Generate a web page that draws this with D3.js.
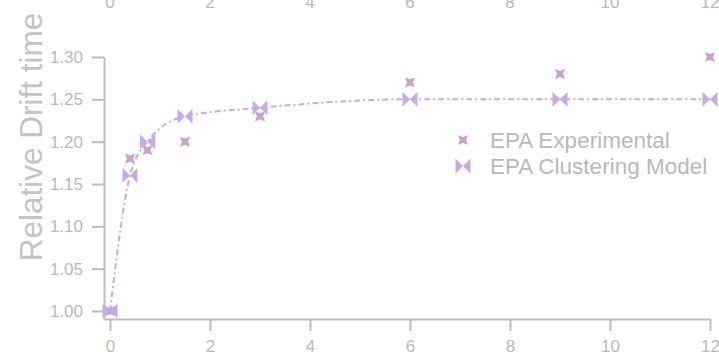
<!DOCTYPE html>
<html>
<head>
<meta charset="utf-8">
<script src="https://cdn.jsdelivr.net/npm/d3@7"></script>
<style>
  html, body { margin: 0; padding: 0; background: #fff; }
  svg { display: block; font-family: "Liberation Sans", Arial, sans-serif; }
</style>
</head>
<body>
<svg id="chart" width="719" height="356"></svg>
<script>
// Time points and relative drift times
const timePoints = [0, 0.4, 0.75, 1.5, 3, 6, 9, 12];
const experimental = [1.00, 1.18, 1.19, 1.20, 1.23, 1.27, 1.28, 1.30];
const clusteringModel = [1.00, 1.16, 1.20, 1.23, 1.24, 1.25, 1.25, 1.25];
const xTicks = [0, 2, 4, 6, 8, 10, 12];
const yTicks = [1.00, 1.05, 1.10, 1.15, 1.20, 1.25, 1.30];
const seriesNames = ["EPA Experimental", "EPA Clustering Model"];

const expColor = "#caa3c6";
const modelColor = "#c9aae6";
const axisColor = "#bdbdbd";
const textColor = "#b9b9b9";

const svg = d3.select("#chart");

const x = d3.scaleLinear().domain([-0.12, 12]).range([104, 710]);
const y = d3.scaleLinear().domain([0.9906, 1.30]).range([319, 57]);

// Axes
const yAxis = svg.append("g")
  .attr("transform", "translate(104,0)")
  .call(d3.axisLeft(y).tickValues(yTicks).tickFormat(d3.format(".2f"))
    .tickSize(12).tickSizeOuter(0).tickPadding(9));
const xAxis = svg.append("g")
  .attr("transform", "translate(0,319)")
  .call(d3.axisBottom(x).tickValues(xTicks).tickFormat(d3.format("d"))
    .tickSize(12).tickSizeOuter(0).tickPadding(9));

[yAxis, xAxis].forEach(g => {
  g.select(".domain").attr("stroke", axisColor).attr("stroke-width", 2);
  g.selectAll(".tick line").attr("stroke", axisColor).attr("stroke-width", 2);
  g.selectAll(".tick text").attr("fill", textColor)
    .style("font-size", "17px").style("font-family", "'Liberation Sans', Arial, sans-serif");
});

// Tick labels of the panel above, cut by the top edge
svg.append("g").selectAll("text")
  .data(xTicks).join("text")
  .attr("x", d => x(d))
  .attr("y", 8)
  .attr("text-anchor", "middle")
  .attr("fill", textColor)
  .style("font-size", "17px")
  .text(d => d);

// Y axis title
svg.append("text")
  .attr("transform", "translate(42,137) rotate(-90)")
  .attr("text-anchor", "middle")
  .attr("fill", "#c4c4c4")
  .style("font-size", "31.5px")
  .text("Relative Drift time");

// Marker shapes
function starSquare(r) {
  const h = r * 0.62;
  return `M${-r},${-r}L0,${-h}L${r},${-r}L${h},0L${r},${r}L0,${h}L${-r},${r}L${-h},0Z`;
}
function bowtie(r) {
  return `M${-r},${-r}L${r},${r}L${r},${-r}L${-r},${r}Z`;
}

// Model curve
const line = d3.line()
  .x((d, i) => x(timePoints[i]))
  .y(d => y(d))
  .curve(d3.curveMonotoneX);

svg.append("path")
  .datum(clusteringModel)
  .attr("d", line)
  .attr("fill", "none")
  .attr("stroke", modelColor)
  .attr("stroke-width", 2)
  .attr("stroke-dasharray", "6,3,2,3");

// Experimental points
svg.append("g").selectAll("path")
  .data(experimental).join("path")
  .attr("transform", (d, i) => `translate(${x(timePoints[i])},${y(d)})`)
  .attr("d", starSquare(5))
  .attr("fill", expColor);

// Model points
svg.append("g").selectAll("path")
  .data(clusteringModel).join("path")
  .attr("transform", (d, i) => `translate(${x(timePoints[i])},${y(d)})`)
  .attr("d", bowtie(7.5))
  .attr("fill", modelColor);

// Legend
const legend = svg.append("g");
const legendRows = [
  { name: seriesNames[0], shape: starSquare(5), color: expColor, y: 140 },
  { name: seriesNames[1], shape: bowtie(7.5), color: modelColor, y: 166 }
];
legendRows.forEach(r => {
  legend.append("path")
    .attr("transform", `translate(463,${r.y})`)
    .attr("d", r.shape)
    .attr("fill", r.color);
  legend.append("text")
    .attr("x", 490)
    .attr("y", r.y + 7.5)
    .attr("fill", textColor)
    .style("font-size", "22.5px")
    .text(r.name);
});
</script>
</body>
</html>
